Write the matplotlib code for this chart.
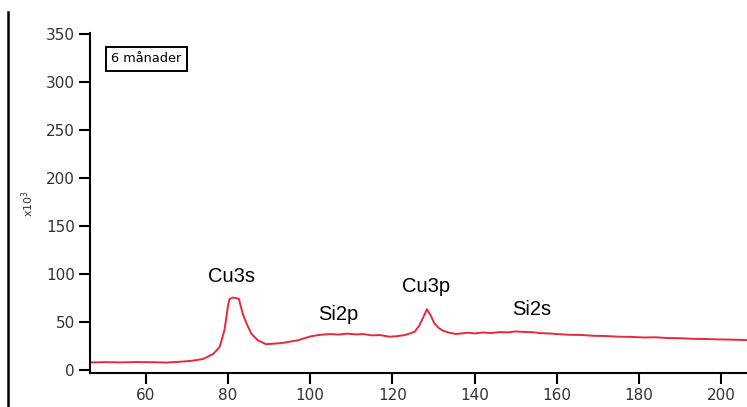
import matplotlib
matplotlib.use("Agg")
import matplotlib.pyplot as plt
from matplotlib.lines import Line2D

# spectrum (binding energy, counts x10^3)
energia = [46.5, 50, 54, 58, 62, 65, 68.3, 71, 73.9, 76.4, 78, 79.2, 80, 80.4, 81.2,
           82, 82.7, 83.6, 84.5, 85.7, 87.3, 89.3, 91, 92.6, 94, 95.5, 97, 98.5, 100,
           101.5, 103, 105, 107, 109, 111, 113, 115, 117, 119.3, 121, 123, 124.5,
           125.4, 126.5, 127.5, 128.4, 129.3, 130.2, 131.2, 132.3, 133.8, 135.5, 138.4,
           140, 142, 144, 146, 148, 150, 152, 154, 156, 158, 160, 163, 166, 169, 172,
           175, 178, 181, 184, 187, 190, 193, 196, 199, 202, 206]
intensitet = [8, 8.3, 8.1, 8.4, 8.2, 7.9, 8.7, 9.6, 11.5, 16.7, 24, 42, 66, 74, 75.5,
              75, 74, 59, 49, 38, 31, 27, 27.5, 28, 28.8, 30, 31, 33, 35, 36.2,
              37, 37.5, 37, 38, 37.2, 37.5, 36.2, 36.5, 34.8, 35.3, 36.5, 38.5,
              40, 46, 55, 63.4, 57, 48.8, 44, 41, 39, 37.6, 39, 38.2, 39.2, 38.6,
              39.6, 39.3, 40.3, 39.7, 39.5, 38.5, 38.2, 37.6, 36.8, 36.6, 35.7, 35.5,
              34.8, 34.6, 34, 34.2, 33.4, 33.2, 32.6, 32.4, 32, 31.8, 31.3]

toppar = ["Cu3s", "Si2p", "Cu3p", "Si2s"]
topp_x = [80.8, 106.8, 128.2, 153.8]
topp_y = [97, 58, 87, 63]

y_ticks = [0, 50, 100, 150, 200, 250, 300, 350]
x_ticks = [60, 80, 100, 120, 140, 160, 180, 200]

fig = plt.figure(figsize=(7.47, 4.07), dpi=100)
ax = fig.add_axes([0.1205, 0.0835, 0.8795, 0.8355])

ax.plot(energia, intensitet, color="#e8283c", lw=1.4)

ax.set_xlim(46.5, 206.2)
ax.set_ylim(-3, 351)
ax.set_xticks(x_ticks)
ax.set_yticks(y_ticks)
ax.tick_params(direction="out", length=8, width=1.5, labelsize=11,
               labelcolor="#333333", pad=3)
for s in ["top", "right"]:
    ax.spines[s].set_visible(False)
ax.spines["left"].set_linewidth(1.5)
ax.spines["bottom"].set_linewidth(1.5)

ax.set_ylabel("x10$^3$", fontsize=8, color="#333333", labelpad=7)

for namn, xx, yy in zip(toppar, topp_x, topp_y):
    ax.text(xx, yy, namn, ha="center", va="center", fontsize=14.5,
            family="Liberation Sans")

ax.text(0.032, 0.9235, "6 månader", transform=ax.transAxes, fontsize=9.3,
        ha="left", va="center",
        bbox=dict(boxstyle="square,pad=0.42", fc="white", ec="black", lw=1.4))

fig.add_artist(Line2D([0.0107, 0.0107], [0, 0.97], color="black", lw=1.8))

fig.savefig("out.png", dpi=100)
